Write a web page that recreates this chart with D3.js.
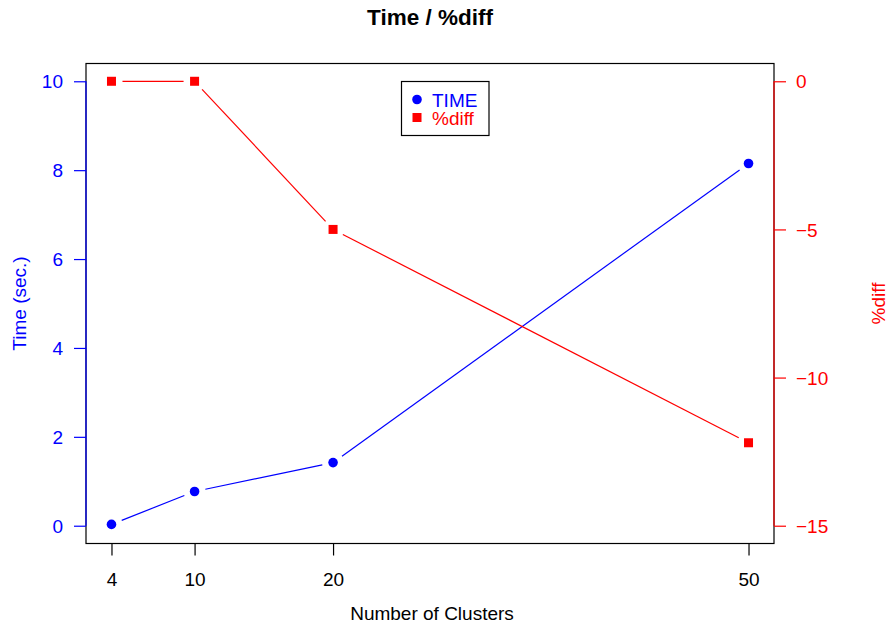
<!DOCTYPE html>
<html><head><meta charset="utf-8">
<script src="https://cdn.jsdelivr.net/npm/d3@7"></script>
<style>body{margin:0;background:#fff}svg{font-family:"Liberation Sans",Arial,sans-serif}</style>
</head><body>
<svg id="c" width="891" height="625"></svg>
<script>
const clusters = [4, 10, 20, 50];
const timeSec = [0.03, 0.77, 1.42, 8.15];
const pctDiff = [0, 0, -5, -12.2];
const xTicks = [4, 10, 20, 50];
const yLeftTicks = [0, 2, 4, 6, 8, 10];
const yRightTicks = [0, -5, -10, -15];

const svg = d3.select("#c");
const L = 86, R = 774, T = 63.5, B = 543.5;
const FS = 19;
const ext = (a, b) => { const d = (b - a) * 0.04; return [a - d, b + d]; };
const x = d3.scaleLinear().domain(ext(4, 50)).range([L, R]);
const yl = d3.scaleLinear().domain(ext(0, 10)).range([B, T]);
const yr = d3.scaleLinear().domain(ext(-15, 0)).range([B, T]);
const BLUE = "#0000ff", RED = "#ff0000";

// box
svg.append("rect").attr("x", L).attr("y", T).attr("width", R - L).attr("height", B - T)
  .attr("fill", "none").attr("stroke", "#000").attr("stroke-width", 1.2);

// lines with gaps (type="b")
function gapLine(xs, ys, color) {
  const gap = 11;
  for (let i = 0; i < xs.length - 1; i++) {
    const x1 = xs[i], y1 = ys[i], x2 = xs[i + 1], y2 = ys[i + 1];
    const dx = x2 - x1, dy = y2 - y1, len = Math.hypot(dx, dy);
    if (len <= 2 * gap) continue;
    const ux = dx / len, uy = dy / len;
    svg.append("line").attr("x1", x1 + ux * gap).attr("y1", y1 + uy * gap)
      .attr("x2", x2 - ux * gap).attr("y2", y2 - uy * gap)
      .attr("stroke", color).attr("stroke-width", 1.2);
  }
}
const txs = clusters.map(x);
gapLine(txs, timeSec.map(yl), BLUE);
gapLine(txs, pctDiff.map(yr), RED);

svg.selectAll(".pt").data(clusters).enter().append("circle")
  .attr("cx", (d) => x(d)).attr("cy", (d, i) => yl(timeSec[i])).attr("r", 4.8).attr("fill", BLUE);
svg.selectAll(".sq").data(clusters).enter().append("rect")
  .attr("x", (d) => x(d) - 4.5).attr("y", (d, i) => yr(pctDiff[i]) - 4.5)
  .attr("width", 9).attr("height", 9).attr("fill", RED);

// axes
const fmt = (d) => d < 0 ? "\u2212" + Math.abs(d) : String(d);
function styleAxis(g, color) {
  g.selectAll("path").attr("stroke", color).attr("stroke-width", 1.2);
  g.selectAll("line").attr("stroke", color).attr("stroke-width", 1.2);
  g.selectAll("text").attr("fill", color).attr("font-size", FS).attr("font-family", "Liberation Sans, Arial, sans-serif");
}
const gl = svg.append("g").attr("transform", `translate(${L},0)`)
  .call(d3.axisLeft(yl).tickValues(yLeftTicks).tickSize(12).tickSizeOuter(0).tickPadding(11).tickFormat(fmt));
gl.select("path").attr("d", `M0,${yl(0)}V${yl(10)}`);
styleAxis(gl, BLUE);
gl.selectAll("text").attr("dy", "0.35em");

const gr = svg.append("g").attr("transform", `translate(${R},0)`)
  .call(d3.axisRight(yr).tickValues(yRightTicks).tickSize(12).tickSizeOuter(0).tickPadding(10).tickFormat(fmt));
gr.select("path").attr("d", `M0,${yr(-15)}V${yr(0)}`);
styleAxis(gr, RED);
gr.selectAll("text").attr("dy", "0.35em");

const gx = svg.append("g").attr("transform", `translate(0,${B})`)
  .call(d3.axisBottom(x).tickValues(xTicks).tickSize(12).tickSizeOuter(0).tickPadding(17).tickFormat(fmt));
gx.select("path").attr("d", `M${x(4)},0H${x(50)}`);
styleAxis(gx, "#000");

// titles
svg.append("text").attr("x", 430).attr("y", 25).attr("text-anchor", "middle")
  .attr("font-weight", "bold").attr("font-size", 22.5).text("Time / %diff");
svg.append("text").attr("x", 432).attr("y", 619.5).attr("text-anchor", "middle")
  .attr("font-size", FS).text("Number of Clusters");
svg.append("text").attr("transform", `translate(26,${(T + B) / 2}) rotate(-90)`).attr("text-anchor", "middle")
  .attr("font-size", FS).attr("fill", BLUE).text("Time (sec.)");
svg.append("text").attr("transform", `translate(885,${(T + B) / 2}) rotate(-90)`).attr("text-anchor", "middle")
  .attr("font-size", FS).attr("fill", RED).text("%diff");

// legend
const lg = svg.append("g");
lg.append("rect").attr("x", 401.5).attr("y", 81.5).attr("width", 87.5).attr("height", 54)
  .attr("fill", "#fff").attr("stroke", "#000").attr("stroke-width", 1.2);
lg.append("circle").attr("cx", 417).attr("cy", 99.5).attr("r", 4.8).attr("fill", BLUE);
lg.append("rect").attr("x", 412.5).attr("y", 113).attr("width", 9).attr("height", 9).attr("fill", RED);
lg.append("text").attr("x", 432).attr("y", 106.5).attr("font-size", FS).attr("fill", BLUE).text("TIME");
lg.append("text").attr("x", 432).attr("y", 124.5).attr("font-size", FS).attr("fill", RED).text("%diff");
</script>
</body></html>
